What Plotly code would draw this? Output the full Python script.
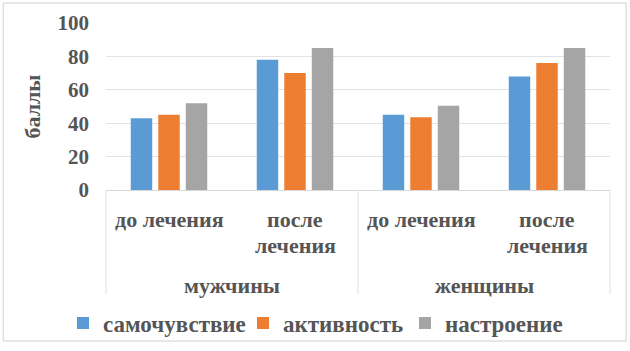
import plotly.graph_objects as go

categories = ["м_до", "м_после", "ж_до", "ж_после"]
period_labels = [["до лечения"], ["после", "лечения"], ["до лечения"], ["после", "лечения"]]
group_labels = ["мужчины", "женщины"]
series_names = ["самочувствие", "активность", "настроение"]
samochuvstvie = [43, 78, 45, 68]
aktivnost = [45, 70, 43.5, 76]
nastroenie = [52, 85, 50.5, 85]
colors = ["#5B9BD5", "#ED7D31", "#A5A5A5"]
y_ticks = [0, 20, 40, 60, 80, 100]

FONT = "Liberation Serif, Times New Roman, serif"
TXT = "#555555"
legend_ids = ["legend", "legend2", "legend3"]
legend_x_px = [63, 243, 405]

fig = go.Figure()
for name, vals, col, lid in zip(series_names, [samochuvstvie, aktivnost, nastroenie], colors, legend_ids):
    fig.add_trace(go.Bar(x=categories, y=vals, name=name, marker_color=col,
                         marker_line_width=0, legend=lid, showlegend=True))

# plot area: x 106..610 px, y 23..190 px
def py(p):
    return (190 - p) / 167.0

annotations = []
for i, lines in enumerate(period_labels):
    for j, line in enumerate(lines):
        annotations.append(dict(x=categories[i], xref="x", y=py(219 + 26 * j), yref="paper",
                                text=line, showarrow=False, xanchor="center", yanchor="middle",
                                font=dict(family=FONT, size=22, color=TXT, weight="bold")))
for k, g in enumerate(group_labels):
    annotations.append(dict(x=0.25 + 0.5 * k, xref="paper", y=py(285), yref="paper",
                            text=g, showarrow=False, xanchor="center", yanchor="middle",
                            font=dict(family=FONT, size=22, color=TXT, weight="bold")))

shapes = [dict(type="rect", xref="paper", yref="paper",
               x0=-0.204, x1=1.032, y0=py(341), y1=py(3),
               line=dict(color="#D0D0D0", width=1))]
for xp in [0, 0.5, 1.0]:
    shapes.append(dict(type="line", xref="paper", yref="paper", x0=xp, x1=xp,
                       y0=py(190), y1=py(294), line=dict(color="#E0E0E0", width=1)))

legend_cfg = {}
for lid, xpx in zip(legend_ids, legend_x_px):
    legend_cfg[lid] = dict(orientation="h", xref="container", yref="container",
                           x=xpx / 630, xanchor="left", y=1 - 323 / 351, yanchor="middle",
                           font=dict(family=FONT, size=23, color=TXT, weight="bold"),
                           itemwidth=30, bgcolor="rgba(0,0,0,0)", borderwidth=0,
                           visible=True)

fig.update_layout(
    width=630, height=351,
    showlegend=True,
    margin=dict(l=106, r=20, t=23, b=161, autoexpand=False),
    paper_bgcolor="white", plot_bgcolor="white",
    barmode="group", bargap=0.345, bargroupgap=0.22,
    font=dict(family=FONT, color=TXT),
    annotations=annotations,
    shapes=shapes,
    **legend_cfg,
)
fig.update_yaxes(range=[0, 100], tickvals=y_ticks, showgrid=True, gridcolor="#E3E3E3",
                 zeroline=False, showline=False, ticklabelstandoff=16,
                 tickfont=dict(family=FONT, size=21, color=TXT, weight="bold"),
                 title=dict(text="баллы", font=dict(family=FONT, size=22, color=TXT, weight="bold"),
                            standoff=10))
fig.update_xaxes(showline=True, linecolor="#D9D9D9", linewidth=1, showticklabels=False,
                 ticks="")
fig.write_html("out.html")
